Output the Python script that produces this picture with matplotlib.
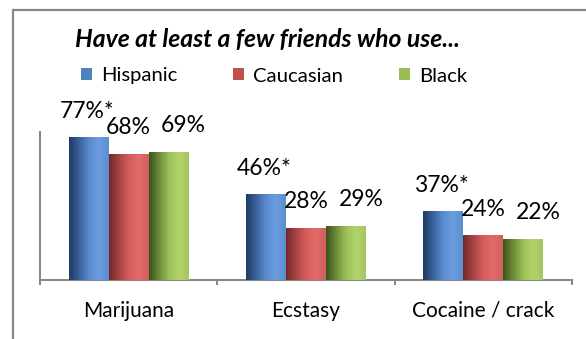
import matplotlib
matplotlib.use('Agg')
import matplotlib.pyplot as plt
import numpy as np
from matplotlib.colors import LinearSegmentedColormap
from matplotlib.patches import Patch

plt.rcParams['font.family'] = ['Lato', 'DejaVu Sans']

categories = ['Marijuana', 'Ecstasy', 'Cocaine / crack']
groups = ['Hispanic', 'Caucasian', 'Black']
hispanic = [77, 46, 37]
caucasian = [68, 28, 24]
black = [69, 29, 22]
# significance marks shown after the Hispanic values
hispanic_marks = ['*', '*', '*']

values = [hispanic, caucasian, black]
marks = [hispanic_marks, ['', '', ''], ['', '', '']]
legend_colors = ['#4f81bd', '#c0504d', '#9bbb59']
# left-to-right shading for the cylinder look
shades = [
    ['#203a63', '#3a6199', '#5a8bd0', '#6b9de0', '#5d8ecf'],
    ['#742828', '#a84444', '#d45c5c', '#e26a68', '#d06060'],
    ['#3b551d', '#6c8a38', '#9cbf58', '#b2d46c', '#a5c563'],
]
# label shift (pixels) per series, blue slightly left, green to the right
label_dx = [-2, 0, 15]

fig = plt.figure(figsize=(5.86, 3.39), dpi=100)

# outer chart frame: top and left edges only, the rest runs off the image
frame = fig.add_axes([0, 0, 1, 1], zorder=-1)
frame.set_xlim(0, 586)
frame.set_ylim(339, 0)
frame.axis('off')
frame.plot([13, 600], [10, 10], color='#878787', linewidth=1.6, solid_capstyle='butt')
frame.plot([13, 13], [10, 345], color='#878787', linewidth=1.6, solid_capstyle='projecting')

ax = fig.add_axes([40 / 586, 1 - 280 / 339, 532 / 586, 148 / 339])
ax.patch.set_alpha(0)

px = 72 / 100.0
width = 0.225
x = np.arange(len(categories))
for i in range(3):
    cmap = LinearSegmentedColormap.from_list('s%d' % i, shades[i])
    grad = np.linspace(0, 1, 64).reshape(1, -1)
    xs = x + (i - 1) * width
    bars = ax.bar(xs, values[i], width, color=legend_colors[i], zorder=2)
    for b, v, m in zip(bars, values[i], marks[i]):
        x0 = b.get_x()
        ax.imshow(grad, cmap=cmap, aspect='auto', zorder=3,
                  extent=(x0, x0 + width, 0, v), interpolation='bicubic')
        ax.annotate('%d%%%s' % (v, m), (x0 + width / 2, v),
                    xytext=(label_dx[i] * px, 20 * px), textcoords='offset points',
                    ha='center', va='baseline', fontsize=16.5, color='black')

ax.set_xlim(-0.5, 2.5)
ax.set_ylim(0, 80)
ax.set_yticks([])
ax.set_xticks([-0.5, 0.5, 1.5, 2.5])
ax.set_xticklabels([])
ax.set_xticks(x, minor=True)
ax.set_xticklabels(categories, minor=True, fontsize=15)
ax.tick_params(axis='x', which='major', length=5 * px, width=2 * px, color='#878787', direction='out')
ax.tick_params(axis='x', which='minor', length=0, pad=15)
for s in ['top', 'right']:
    ax.spines[s].set_visible(False)
for s in ['left', 'bottom']:
    ax.spines[s].set_color('#878787')
    ax.spines[s].set_linewidth(2 * px)

fig.text(267 / 586, 1 - 40 / 339, 'Have at least a few friends who use...',
         ha='center', va='center', fontsize=17.8, fontweight='bold', fontstyle='italic')

handles = [Patch(facecolor=c, edgecolor='none') for c in legend_colors]
fig.legend(handles, groups, loc='center', bbox_to_anchor=(274 / 586, 1 - 76 / 339),
           ncol=3, frameon=False, fontsize=14.6, handlelength=0.55, handleheight=0.55,
           handletextpad=0.45, columnspacing=2.75, borderpad=0)

fig.savefig('out.png', dpi=100)
